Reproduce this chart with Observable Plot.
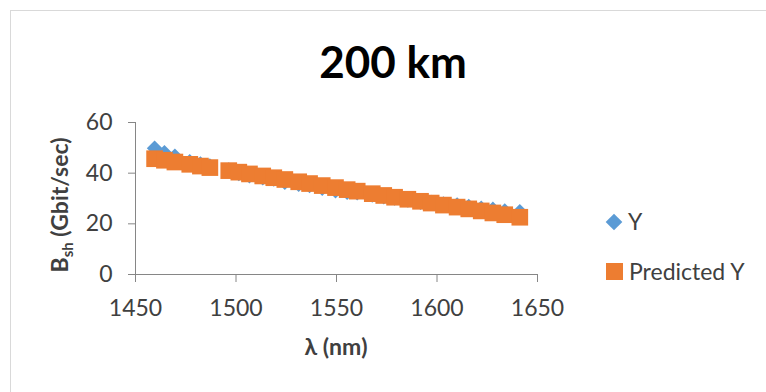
<!DOCTYPE html>
<html>
<head>
<meta charset="utf-8">
<script src="https://cdn.jsdelivr.net/npm/d3@7"></script>
<script src="https://cdn.jsdelivr.net/npm/@observablehq/plot@0.6"></script>
<style>
  html, body { margin: 0; padding: 0; background: #fff; overflow: hidden; }
  #chart { width: 766px; height: 392px; position: relative; }
</style>
</head>
<body>
<div id="chart"></div>
<script>
// ---- data ----
const titleText = "200 km";
const wavelength = [1459.5, 1464.4, 1469.6, 1477.0, 1482.3, 1487.0, 1496.4, 1501.4, 1506.7, 1513.3, 1518.8, 1524.3, 1531.2, 1536.6, 1542.9, 1549.5, 1555.3, 1560.3, 1567.8, 1573.5, 1578.9, 1585.5, 1591.8, 1597.1, 1603.2, 1610.0, 1615.8, 1622.0, 1627.8, 1633.7, 1641.2];
const yActual = [49.8, 48.1, 46.7, 44.5, 43.6, 42.8, 41.2, 39.9, 39.0, 38.2, 37.7, 36.4, 35.6, 35.1, 34.1, 33.1, 32.5, 32.3, 31.4, 30.7, 30.2, 29.4, 28.5, 28.4, 27.8, 27.4, 26.8, 26.1, 25.7, 25.1, 24.8];
const yPredicted = [45.7, 45.1, 44.4, 43.5, 42.8, 42.2, 41.0, 40.4, 39.7, 38.9, 38.2, 37.5, 36.6, 35.9, 35.1, 34.3, 33.5, 32.9, 31.9, 31.2, 30.5, 29.7, 28.9, 28.2, 27.4, 26.6, 25.9, 25.1, 24.3, 23.6, 22.6];
const xTicks = [1450, 1500, 1550, 1600, 1650];
const yTicks = [0, 20, 40, 60];
const seriesNames = ["Y", "Predicted Y"];

const actualRows = wavelength.map((x, i) => ({x, y: yActual[i]}));
const predRows = wavelength.map((x, i) => ({x, y: yPredicted[i]}));

const BLUE = "#5B9BD5", ORANGE = "#ED7D31", AXIS = "#868686", TEXT = "#404040";
const FONT = "Lato, 'Open Sans', sans-serif";

const plot = Plot.plot({
  width: 766,
  height: 392,
  marginLeft: 135,
  marginRight: 229,
  marginTop: 122,
  marginBottom: 118,
  style: {fontFamily: FONT, background: "#fff", overflow: "visible"},
  x: {domain: [1450, 1650]},
  y: {domain: [0, 60]},
  marks: [
    Plot.ruleY([0], {stroke: AXIS}),
    Plot.ruleX([1450], {stroke: AXIS}),
    Plot.axisY({ticks: yTicks, tickSize: 7, tickPadding: 16, fontSize: 23, label: null, stroke: AXIS, fill: TEXT, tickFormat: d => String(d)}),
    Plot.axisX({ticks: xTicks, tickSize: 8, tickPadding: 17, fontSize: 23, label: null, stroke: AXIS, fill: TEXT, tickFormat: d => String(d)}),
    Plot.dot(actualRows, {x: "x", y: "y", symbol: "diamond2", r: 7, fill: BLUE, stroke: null}),
    Plot.dot(predRows, {x: "x", y: "y", symbol: "square", r: 9.4, fill: ORANGE, stroke: null})
  ]
});

document.getElementById("chart").appendChild(plot);
const svg = d3.select(plot);

// chart-area border
svg.insert("rect", ":first-child")
  .attr("x", 10.5).attr("y", 10.5).attr("width", 900).attr("height", 600)
  .attr("fill", "none").attr("stroke", "#d9d9d9");

// title
svg.append("text")
  .attr("x", 393).attr("y", 78)
  .attr("text-anchor", "middle")
  .attr("font-family", FONT).attr("font-weight", "bold").attr("font-size", 44)
  .attr("fill", "#000")
  .text(titleText);

// x label
svg.append("text")
  .attr("x", 336).attr("y", 355)
  .attr("text-anchor", "middle")
  .attr("font-family", FONT).attr("font-weight", "bold").attr("font-size", 23)
  .attr("fill", TEXT)
  .text("λ (nm)");

// y label with subscript
const yl = svg.append("text")
  .attr("transform", "translate(68,205) rotate(-90)")
  .attr("text-anchor", "middle")
  .attr("font-family", FONT).attr("font-weight", "bold").attr("font-size", 23)
  .attr("fill", TEXT);
yl.append("tspan").text("B");
yl.append("tspan").attr("font-size", 15).attr("dy", 5).text("sh");
yl.append("tspan").attr("dy", -5).text(" (Gbit/sec)");

// legend
const leg = svg.append("g").attr("font-family", FONT).attr("font-size", 23).attr("fill", TEXT).attr("text-anchor", "start");
leg.append("path")
  .attr("transform", "translate(614,222)")
  .attr("d", d3.symbol(d3.symbolDiamond2, Math.PI * 7.5 * 7.5)())
  .attr("fill", BLUE);
leg.append("text").attr("x", 628).attr("y", 222).attr("dy", "0.35em").attr("text-anchor", "start").text(seriesNames[0]);
leg.append("rect").attr("x", 606).attr("y", 263).attr("width", 17).attr("height", 17).attr("fill", ORANGE);
leg.append("text").attr("x", 629).attr("y", 271.5).attr("dy", "0.35em").attr("text-anchor", "start").text(seriesNames[1]);
</script>
</body>
</html>
